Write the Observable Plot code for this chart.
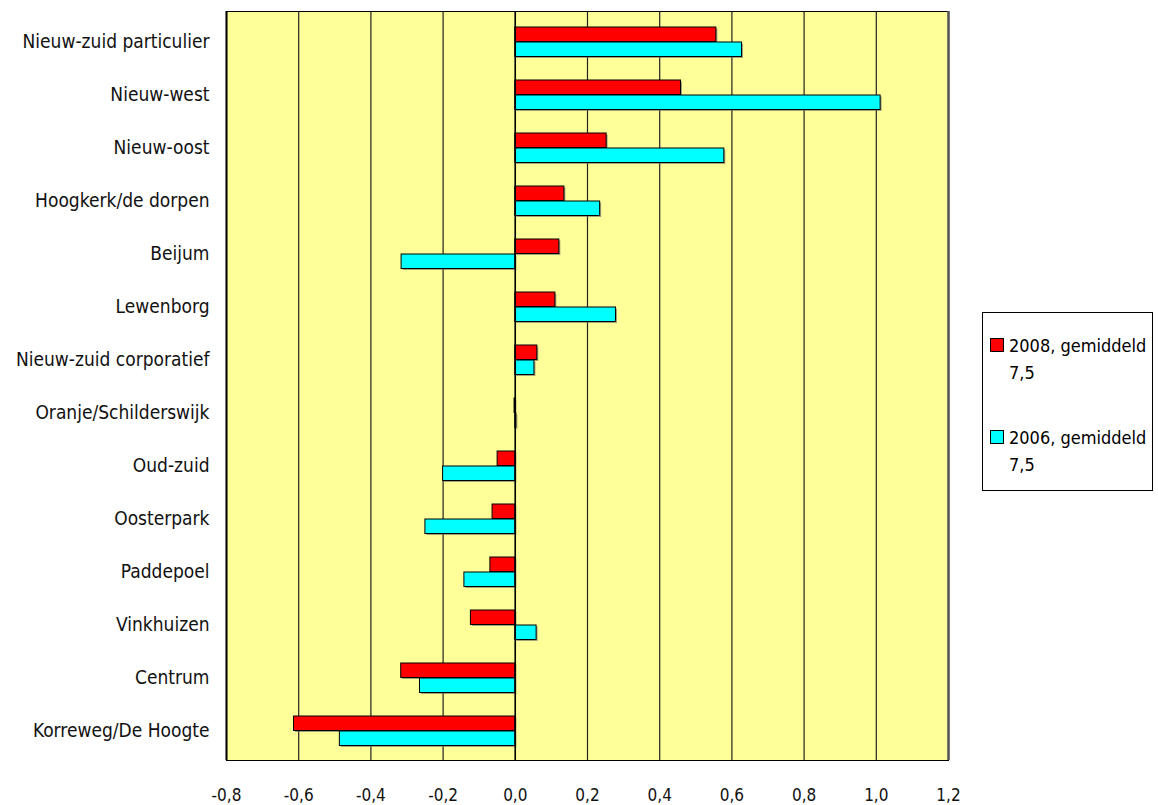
<!DOCTYPE html>
<html>
<head>
<meta charset="utf-8">
<script src="https://cdn.jsdelivr.net/npm/d3@7"></script>
<script src="https://cdn.jsdelivr.net/npm/@observablehq/plot@0.6"></script>
<style>
  html, body { margin: 0; padding: 0; background: #fff; }
  #wrap { position: relative; width: 1158px; height: 805px; font-family: "DejaVu Sans Condensed", "Liberation Sans Narrow", sans-serif; }
  #legend { position: absolute; left: 982px; top: 312px; width: 171px; height: 179px; border: 1px solid #000; background: #fff; box-sizing: border-box; font-size: 18px; color: #000; }
  .item { position: absolute; left: 7px; line-height: 27px; white-space: nowrap; }
  .sw { position: absolute; left: 0; top: 6px; width: 12px; height: 12px; border: 1px solid #000; }
  .txt { margin-left: 19px; }
</style>
</head>
<body>
<div id="wrap">
  <div id="chart"></div>
  <div id="legend"></div>
</div>
<script>
const categories = [
  "Nieuw-zuid particulier", "Nieuw-west", "Nieuw-oost", "Hoogkerk/de dorpen", "Beijum",
  "Lewenborg", "Nieuw-zuid corporatief", "Oranje/Schilderswijk", "Oud-zuid", "Oosterpark",
  "Paddepoel", "Vinkhuizen", "Centrum", "Korreweg/De Hoogte"
];
const values2008 = [0.557, 0.459, 0.253, 0.136, 0.122, 0.111, 0.061, -0.002, -0.049, -0.063, -0.069, -0.123, -0.316, -0.613];
const values2006 = [0.628, 1.012, 0.579, 0.235, -0.315, 0.279, 0.053, 0.003, -0.200, -0.249, -0.141, 0.059, -0.264, -0.486];
const xTicks = [-0.8, -0.6, -0.4, -0.2, 0.0, 0.2, 0.4, 0.6, 0.8, 1.0, 1.2];
const seriesNames = ["2008, gemiddeld 7,5", "2006, gemiddeld 7,5"];
const seriesColors = ["#FF0000", "#00FFFF"];

const d2008 = categories.map((c, i) => ({cat: c, v: values2008[i]}));
const d2006 = categories.map((c, i) => ({cat: c, v: values2006[i]}));

const fmt = d => {
  const s = Math.abs(d).toFixed(1).replace(".", ",");
  return (d < -1e-9 ? "-" : "") + s;
};

const chart = Plot.plot({
  width: 1158,
  height: 805,
  marginLeft: 226,
  marginRight: 210,
  marginTop: 11,
  marginBottom: 45,
  style: {fontFamily: '"DejaVu Sans Condensed", "Liberation Sans Narrow", sans-serif', fontSize: "17px", color: "#000", background: "#fff"},
  x: {domain: [-0.8, 1.2], label: null},
  y: {domain: categories, padding: 0, label: null},
  marks: [
    Plot.frame({fill: "#FFFF99", stroke: null}),
    Plot.ruleX(xTicks, {stroke: "#222", strokeWidth: 1.2}),
    // shadows
    Plot.barX(d2008, {x: "v", y: "cat", insetTop: 12, insetBottom: 26.5, fill: "#666", fillOpacity: 0.6, dx: 1.5, dy: 1.5}),
    Plot.barX(d2006, {x: "v", y: "cat", insetTop: 27, insetBottom: 11.5, fill: "#666", fillOpacity: 0.6, dx: 1.5, dy: 1.5}),
    Plot.barX(d2008, {x: "v", y: "cat", insetTop: 12, insetBottom: 26.5, fill: seriesColors[0], stroke: "#000", strokeWidth: 1}),
    Plot.barX(d2006, {x: "v", y: "cat", insetTop: 27, insetBottom: 11.5, fill: seriesColors[1], stroke: "#000", strokeWidth: 1}),
    Plot.ruleX([0], {stroke: "#000", strokeWidth: 1.5}),
    Plot.frame({stroke: "#000", strokeWidth: 1}),
    Plot.ruleX([-0.8], {stroke: "#000", strokeWidth: 2}),
    Plot.ruleX([1.2], {stroke: "#555", strokeWidth: 2.5}),
    Plot.axisY({tickSize: 0, tickPadding: 17, fontSize: 19, fill: "#111"}),
    Plot.axisX({ticks: xTicks, tickFormat: fmt, tickSize: 0, tickPadding: 28, fontSize: 17, fill: "#111"})
  ]
});
document.getElementById("chart").appendChild(chart);

const legend = document.getElementById("legend");
const tops = [19, 111];
seriesNames.forEach((name, i) => {
  const parts = name.split(" gemiddeld ");
  const item = document.createElement("div");
  item.className = "item";
  item.style.top = tops[i] + "px";
  item.innerHTML = `<div class="sw" style="background:${seriesColors[i]}"></div><div class="txt">${parts[0]} gemiddeld<br>${parts[1]}</div>`;
  legend.appendChild(item);
});
</script>
</body>
</html>
